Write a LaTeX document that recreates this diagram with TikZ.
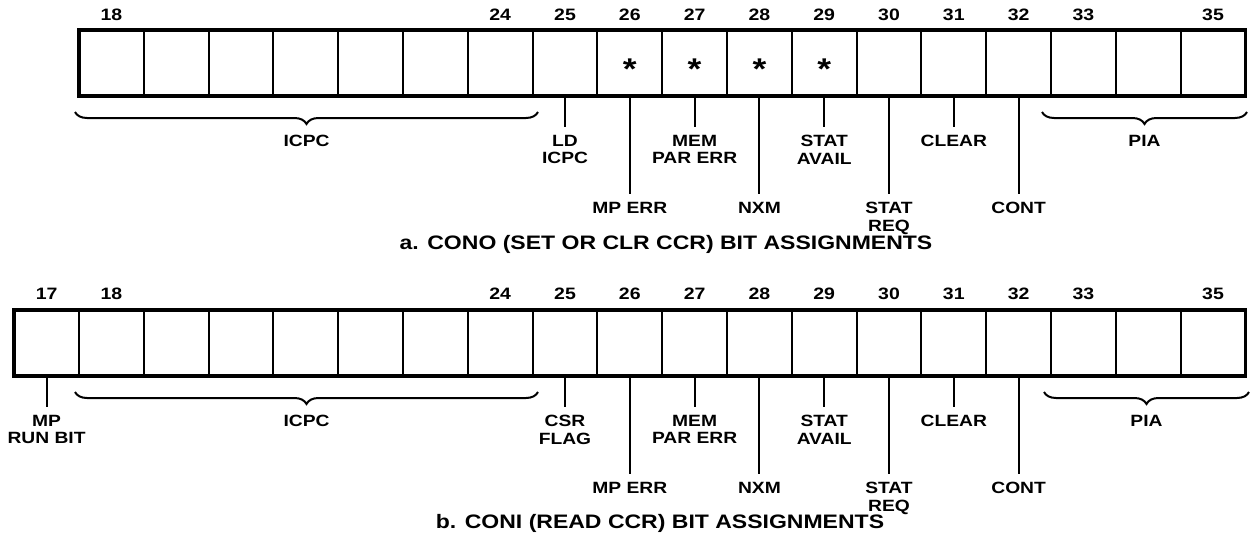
\documentclass[tikz,border=0pt]{standalone}
\usepackage{fontspec}
\setmainfont{Liberation Sans}[FakeStretch=1.18]
\usetikzlibrary{decorations.pathreplacing}
\begin{document}
\begin{tikzpicture}[x=1pt,y=-1pt,
  cell/.style={draw, line width=2pt, minimum width=64.8pt, minimum height=66pt, inner sep=0pt, outer sep=0pt},
  frame/.style={line width=3.5pt},
  bitno/.style={font=\bfseries\fontsize{16.5}{18}\selectfont, inner sep=0pt},
  lbl/.style={font=\bfseries\fontsize{16.3}{17.5}\selectfont, align=center, inner sep=0pt, anchor=north},
  captxt/.style={font=\bfseries\fontsize{19.5}{22}\selectfont, inner sep=0pt},
  lead/.style={line width=2pt},
  brc/.style={decorate, decoration={brace, amplitude=12pt, mirror}, line width=2pt},
  astx/.style={font=\bfseries\fontsize{30}{30}\selectfont, inner sep=0pt, yshift=-6pt}]
\useasboundingbox (0,0) rectangle (1253,546);
% ---------- row a ----------
\foreach \i in {18,...,35} \node[cell] (a\i) at ({79+(\i-17.5)*64.8},63) {};
\draw[frame] (a18.north west) rectangle (a35.south east);
\foreach \i in {18,24,25,26,27,28,29,30,31,32,33,35}
  \node[bitno] (na\i) at ({79+(\i-17.5)*64.8},15) {\i};
\foreach \i in {26,27,28,29} \node[astx] (sa\i) at (a\i.center) {*};
\coordinate (ba1) at (75,112); \coordinate (ba2) at (538,112);
\coordinate (ba3) at (1042,112); \coordinate (ba4) at (1247,112);
\draw[brc] (ba1) -- (ba2);
\draw[brc] (ba3) -- (ba4);
\node[lbl] (lai) at (306.5,135) {ICPC};
\node[lbl] (lap) at (1144.5,135) {PIA};
\node[lbl] (la25) at (a25.south |- 0,135) {LD\\ICPC};
\node[lbl] (la26) at (a26.south |- 0,202) {MP ERR};
\node[lbl] (la27) at (a27.south |- 0,135) {MEM\\PAR ERR};
\node[lbl] (la28) at (a28.south |- 0,202) {NXM};
\node[lbl] (la29) at (a29.south |- 0,135) {STAT\\AVAIL};
\node[lbl] (la30) at (a30.south |- 0,202) {STAT\\REQ};
\node[lbl] (la31) at (a31.south |- 0,135) {CLEAR};
\node[lbl] (la32) at (a32.south |- 0,202) {CONT};
\foreach \i in {25,...,32} \draw[lead] (a\i.south) -- ([yshift=8pt]la\i.north);
\node[captxt] (capa) at (666,244) {a. CONO (SET OR CLR CCR) BIT ASSIGNMENTS};
% ---------- row b ----------
\foreach \i in {17,...,35} \node[cell] (b\i) at ({79+(\i-17.5)*64.8},343) {};
\draw[frame] (b17.north west) rectangle (b35.south east);
\foreach \i in {17,18,24,25,26,27,28,29,30,31,32,33,35}
  \node[bitno] (nb\i) at ({79+(\i-17.5)*64.8},294) {\i};
\coordinate (bb1) at (75,392); \coordinate (bb2) at (538,392);
\coordinate (bb3) at (1044,392); \coordinate (bb4) at (1249,392);
\draw[brc] (bb1) -- (bb2);
\draw[brc] (bb3) -- (bb4);
\node[lbl] (lbi) at (306.5,415) {ICPC};
\node[lbl] (lbp) at (1146.5,415) {PIA};
\node[lbl] (lb17) at (b17.south |- 0,415) {MP\\RUN BIT};
\node[lbl] (lb25) at (b25.south |- 0,415) {CSR\\FLAG};
\node[lbl] (lb26) at (b26.south |- 0,482) {MP ERR};
\node[lbl] (lb27) at (b27.south |- 0,415) {MEM\\PAR ERR};
\node[lbl] (lb28) at (b28.south |- 0,482) {NXM};
\node[lbl] (lb29) at (b29.south |- 0,415) {STAT\\AVAIL};
\node[lbl] (lb30) at (b30.south |- 0,482) {STAT\\REQ};
\node[lbl] (lb31) at (b31.south |- 0,415) {CLEAR};
\node[lbl] (lb32) at (b32.south |- 0,482) {CONT};
\foreach \i in {17,25,26,27,28,29,30,31,32} \draw[lead] (b\i.south) -- ([yshift=8pt]lb\i.north);
\node[captxt] (capb) at (660,523) {b. CONI (READ CCR) BIT ASSIGNMENTS};
\end{tikzpicture}
\end{document}
